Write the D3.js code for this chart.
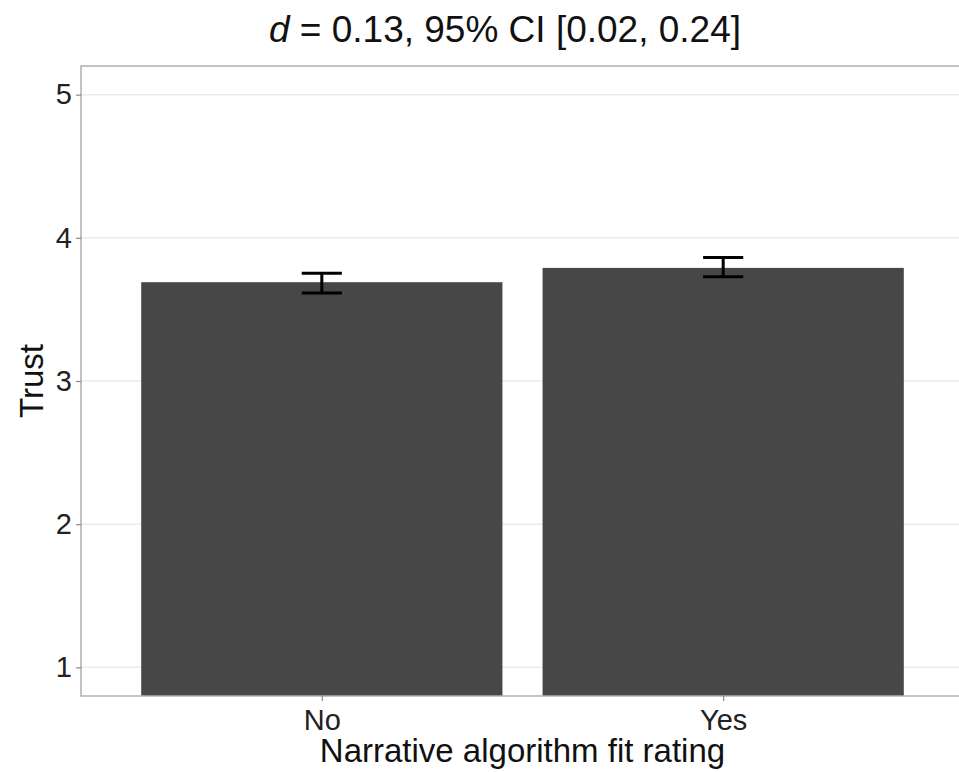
<!DOCTYPE html>
<html>
<head>
<meta charset="utf-8">
<script src="https://cdn.jsdelivr.net/npm/d3@7"></script>
<style>
    body { margin: 0; background: #fff; }
    svg { display: block; font-family: "Liberation Sans", Arial, sans-serif; }
</style>
</head>
<body>
<div id="chart"></div>
<script>
// data
const categories = ["No", "Yes"];
const means = [3.69, 3.79];
const ciLow = [3.615, 3.728];
const ciHigh = [3.752, 3.862];
const yTicks = [1, 2, 3, 4, 5];

const width = 959, height = 772;
const margin = { top: 66, right: -5, bottom: 76, left: 81 };
const innerW = width - margin.left - margin.right;
const innerH = height - margin.top - margin.bottom;

const svg = d3.select("#chart")
    .append("svg")
    .attr("width", width)
    .attr("height", height);

const g = svg.append("g")
    .attr("transform", `translate(${margin.left},${margin.top})`);

// ggplot-style discrete scale: 0.6 expansion on each side
const x = d3.scaleLinear().domain([0.4, categories.length + 0.6]).range([0, innerW]);
const y = d3.scaleLinear().domain([0.8, 5.2]).range([innerH, 0]);

// grid lines
g.append("g")
    .selectAll("line")
    .data(yTicks)
    .enter()
    .append("line")
    .attr("x1", 0)
    .attr("x2", innerW)
    .attr("y1", d => y(d))
    .attr("y2", d => y(d))
    .attr("stroke", "#ebebeb")
    .attr("stroke-width", 1.5);

// bars
const barW = 0.9;
g.append("g")
    .selectAll("rect")
    .data(categories)
    .enter()
    .append("rect")
    .attr("x", (d, i) => x(i + 1 - barW / 2))
    .attr("width", (d, i) => x(i + 1 + barW / 2) - x(i + 1 - barW / 2))
    .attr("y", (d, i) => y(means[i]))
    .attr("height", (d, i) => innerH - y(means[i]))
    .attr("fill", "#474747");

// error bars
const capW = 0.1;
const eb = g.append("g")
    .attr("stroke", "#000")
    .attr("stroke-width", 3);
categories.forEach((c, i) => {
    const cx = x(i + 1);
    const half = (x(capW) - x(0)) / 2;
    eb.append("line").attr("x1", cx).attr("x2", cx).attr("y1", y(ciLow[i])).attr("y2", y(ciHigh[i]));
    eb.append("line").attr("x1", cx - half).attr("x2", cx + half).attr("y1", y(ciLow[i])).attr("y2", y(ciLow[i]));
    eb.append("line").attr("x1", cx - half).attr("x2", cx + half).attr("y1", y(ciHigh[i])).attr("y2", y(ciHigh[i]));
});

// panel border
g.append("rect")
    .attr("x", 0)
    .attr("y", 0)
    .attr("width", innerW)
    .attr("height", innerH)
    .attr("fill", "none")
    .attr("stroke", "#b0b0b0")
    .attr("stroke-width", 1.5);

// y axis
const yAxis = g.append("g")
    .call(d3.axisLeft(y).tickValues(yTicks).tickSize(5).tickPadding(4).tickFormat(d3.format("d")));
yAxis.select(".domain").remove();
yAxis.selectAll(".tick line").attr("stroke", "#888").attr("stroke-width", 1.2);
yAxis.selectAll(".tick text")
    .attr("font-size", "29px")
    .attr("fill", "#222")
    .attr("font-family", "Liberation Sans, Arial, sans-serif");

// x axis
const xAxis = g.append("g")
    .attr("transform", `translate(0,${innerH})`)
    .call(d3.axisBottom(x).tickValues([1, 2]).tickSize(5).tickPadding(3).tickFormat((d) => categories[d - 1]));
xAxis.select(".domain").remove();
xAxis.selectAll(".tick line").attr("stroke", "#888").attr("stroke-width", 1.2);
xAxis.selectAll(".tick text")
    .attr("font-size", "29px")
    .attr("fill", "#222")
    .attr("font-family", "Liberation Sans, Arial, sans-serif")
    .attr("dy", null)
    .attr("y", 34);

// axis titles
svg.append("text")
    .attr("x", margin.left + (x(2.6) - x(0.4)) / 2)
    .attr("y", 762)
    .attr("text-anchor", "middle")
    .attr("font-size", "33px")
    .attr("fill", "#111")
    .text("Narrative algorithm fit rating");

svg.append("text")
    .attr("transform", `translate(43,${margin.top + innerH / 2}) rotate(-90)`)
    .attr("text-anchor", "middle")
    .attr("font-size", "33px")
    .attr("fill", "#111")
    .text("Trust");

// title
const title = svg.append("text")
    .attr("x", 505)
    .attr("y", 42)
    .attr("text-anchor", "middle")
    .attr("font-size", "37px")
    .attr("fill", "#111");
title.append("tspan").attr("font-style", "italic").text("d");
title.append("tspan").text(" = 0.13, 95% CI [0.02, 0.24]");
</script>
</body>
</html>
